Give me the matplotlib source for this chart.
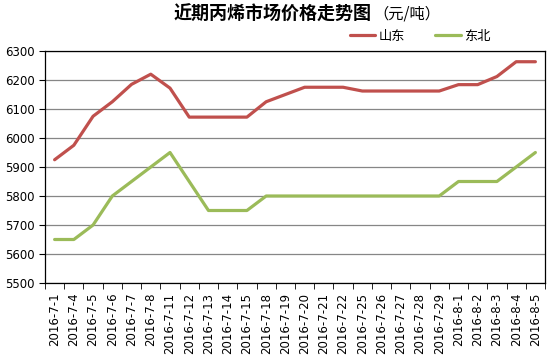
import numpy as np
import matplotlib
matplotlib.use("Agg")
import matplotlib.pyplot as plt

plt.rcParams['font.family'] = ['Noto Sans CJK SC', 'DejaVu Sans']

dates = ["2016-7-1", "2016-7-4", "2016-7-5", "2016-7-6", "2016-7-7", "2016-7-8",
         "2016-7-11", "2016-7-12", "2016-7-13", "2016-7-14", "2016-7-15",
         "2016-7-18", "2016-7-19", "2016-7-20", "2016-7-21", "2016-7-22",
         "2016-7-25", "2016-7-26", "2016-7-27", "2016-7-28", "2016-7-29",
         "2016-8-1", "2016-8-2", "2016-8-3", "2016-8-4", "2016-8-5"]
shandong = [5925, 5975, 6075, 6125, 6185, 6220, 6172, 6072, 6072, 6072, 6072,
            6125, 6150, 6175, 6175, 6175, 6162, 6162, 6162, 6162, 6162,
            6184, 6184, 6212, 6263, 6263]
dongbei = [5650, 5650, 5700, 5800, 5850, 5900, 5950, 5850, 5750, 5750, 5750,
           5800, 5800, 5800, 5800, 5800, 5800, 5800, 5800, 5800, 5800,
           5850, 5850, 5850, 5900, 5950]

fig = plt.figure(figsize=(5.55, 3.56), dpi=100)
ax = fig.add_axes([45/555, 1 - 283/356, 500/555, 232/356])

x = np.arange(len(dates))
ax.plot(x, shandong, color="#C0504D", lw=2.3, label="山东", solid_capstyle="round")
ax.plot(x, dongbei, color="#9BBB59", lw=2.3, label="东北", solid_capstyle="round")

ax.set_xlim(-0.5, len(dates) - 0.5)
ax.set_ylim(5500, 6300)
ax.set_yticks(range(5500, 6301, 100))
ax.yaxis.grid(True, color="#868686", lw=0.9)
ax.set_axisbelow(True)

ax.set_xticks(x)
ax.set_xticklabels(dates, rotation=90, fontsize=8.5, family="DejaVu Sans")
ax.tick_params(axis="x", length=0, pad=7)
ax.set_xticks(np.arange(-0.5, len(dates), 1), minor=True)
ax.tick_params(axis="x", which="minor", length=4, direction="out")
ax.tick_params(axis="y", length=4, labelsize=8.5)
for lbl in ax.get_yticklabels():
    lbl.set_family("DejaVu Sans")
for s in ax.spines.values():
    s.set_color("black")
    s.set_linewidth(0.9)

fig.text(372/555, 1 - 14/356, "近期丙烯市场价格走势图", ha="right", va="center",
         fontsize=13, fontweight="bold")
fig.text(373/555, 1 - 14/356, "（元/吨）", ha="left", va="center", fontsize=11)

fig.legend(loc="center right", bbox_to_anchor=(491/555, 1 - 36/356), ncol=2,
           frameon=False, fontsize=9.5, handlelength=1.9, columnspacing=2.3,
           handletextpad=0.3, borderaxespad=0, borderpad=0)

fig.savefig("out.png", dpi=100)
